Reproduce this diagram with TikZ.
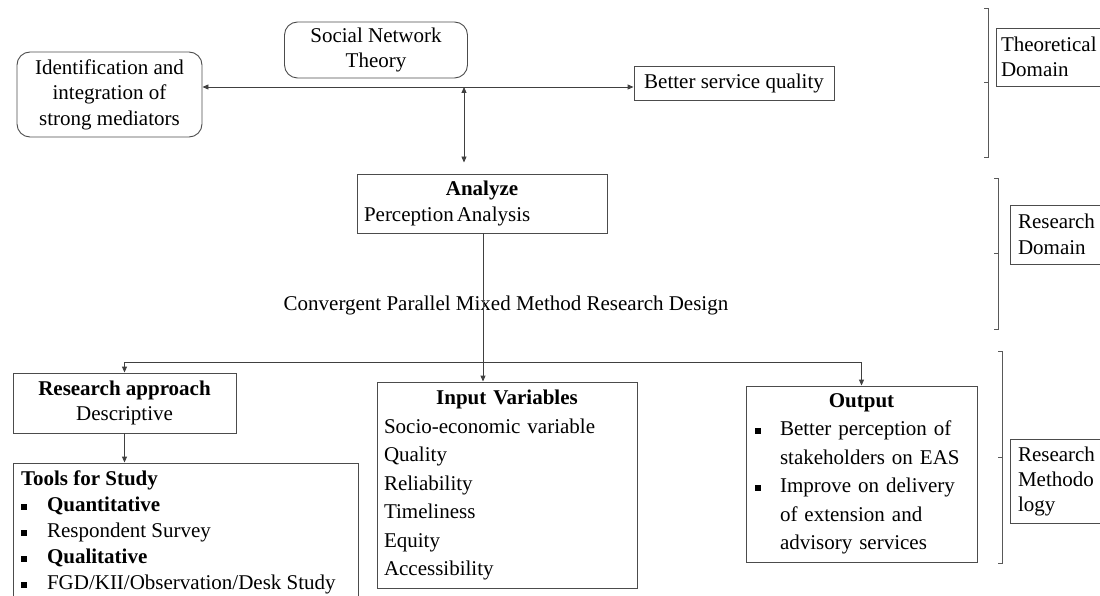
\documentclass[tikz,border=0pt]{standalone}
\usepackage{fontspec}
\setmainfont{Liberation Serif}
\usetikzlibrary{arrows.meta}
\newcommand{\fsz}[1]{\fontsize{21}{#1}\selectfont}
\newcommand{\bul}{\raisebox{2pt}{\rule{6pt}{6pt}}}
\begin{document}
\begin{tikzpicture}[x=1pt,y=-1pt,
  every node/.style={font=\fsz{25.5}, text=black, inner sep=0pt},
  box/.style={draw=black!70, line width=0.9pt, rectangle, inner xsep=7pt},
  rbox/.style={box, rounded corners=13pt},
  con/.style={draw=black!75, line width=0.9pt},
  tp/.style={{Triangle[length=6pt,width=5pt]}-{Triangle[length=6pt,width=5pt]}},
  ar/.style={-{Triangle[length=6pt,width=5pt]}},
  brk/.style={draw=black!65, line width=0.9pt}]
\clip (0,0) rectangle (1100,596);
\useasboundingbox (0,0) rectangle (1100,596);

% theoretical domain
\node[rbox, minimum width=183, minimum height=56, align=center] (snt) at (376,50) {Social Network\\Theory};
\node[rbox, minimum width=185, minimum height=85, align=center] (id) at (109.5,94.5) {Identification and\\integration of\\strong mediators};
\node[box, minimum width=200, minimum height=34, inner xsep=8pt] (bsq) at (734,83) {Better service quality};

% research domain
\node[box, minimum width=250, minimum height=59, text width=236, align=left] (an) at (482,203.5)
  {\makebox[236pt][c]{\textbf{Analyze}}\\Perception\hspace{3pt}Analysis};
\node (cv) at (506,305) {Convergent Parallel Mixed Method Research Design};

% methodology
\node[box, minimum width=223, minimum height=60, align=center] (ra) at (124.5,403) {\textbf{Research approach}\\Descriptive};
\node[box, minimum width=345, minimum height=160, inner xsep=8pt, inner ysep=8pt] (tl) at (185.5,543)
  {\parbox[c][144pt][t]{329pt}{\fsz{26}\textbf{Tools for Study}\\
   \makebox[26pt][l]{\bul}\textbf{Quantitative}\\
   \makebox[26pt][l]{\bul}Respondent Survey\\
   \makebox[26pt][l]{\bul}\textbf{Qualitative}\\
   \makebox[26pt][l]{\bul}FGD/KII/Observation/Desk Study}};
\node[box, minimum width=260, minimum height=206, text width=246, align=left, font=\fsz{28.5}] (iv) at (507,485)
  {\makebox[246pt][c]{\textbf{Input Variables}}\\Socio-economic variable\\Quality\\Reliability\\Timeliness\\Equity\\Accessibility};
\node[box, minimum width=231, minimum height=176, text width=213, inner xsep=9pt, align=left, font=\fsz{28.5}] (out) at (861.5,474)
  {\makebox[213pt][c]{\textbf{Output}}\\
   \makebox[25pt][l]{\bul}Better perception of\\
   \hspace*{25pt}stakeholders on EAS\\
   \makebox[25pt][l]{\bul}Improve on delivery\\
   \hspace*{25pt}of extension and\\
   \hspace*{25pt}advisory services};

% domain labels
\node[box, minimum width=119, minimum height=58, text width=109, inner xsep=5pt, align=left] (td) at (1055.5,57) {Theoretical\\Domain};
\node[box, minimum width=105, minimum height=59, text width=89, inner xsep=8pt, align=left] (rd) at (1062.5,234.5) {Research\\Domain};
\node[box, minimum width=105, minimum height=84, text width=89, inner xsep=8pt, align=left, font=\fsz{25}] (rm) at (1062.5,481) {Research\\Methodo\\logy};

% brackets
\draw[brk] (984,8) -- (988,8) -- (988,157) -- (984,157) (988,82) -- (984,82);
\draw[brk] (994,178) -- (998,178) -- (998,329) -- (994,329) (998,253) -- (994,253);
\draw[brk] (998,351) -- (1002,351) -- (1002,563) -- (998,563) (1002,457) -- (998,457);

% connectors
\coordinate (hl) at (0,87);
\coordinate (va) at (464,87);
\coordinate (ax) at (483,0);
\coordinate (hb) at (0,362);
\draw[con,tp] (id.east |- hl) -- (bsq.west |- hl);
\draw[con,tp,shorten >=11pt] (va) -- (va |- an.north);
\draw[con,ar] (an.south -| ax) -- (iv.north -| ax);
\draw[con,tp] (ra.north) -- (ra.north |- hb) -- (out.north |- hb) -- (out.north);
\draw[con,ar] (ra.south) -- (ra.south |- tl.north);
\end{tikzpicture}
\end{document}
